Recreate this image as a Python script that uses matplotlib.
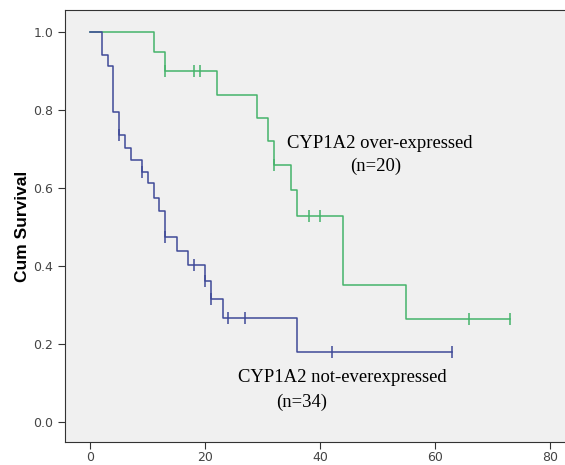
import matplotlib
matplotlib.use("Agg")
import matplotlib.pyplot as plt

# CYP1A2 over-expressed (n=20)
over_times = [0, 11, 13, 22, 29, 31, 32, 35, 36, 44, 55]
over_surv = [1.0, 0.95, 0.90, 0.84, 0.78, 0.72, 0.66, 0.594, 0.528, 0.352, 0.264]
over_end = 73
over_cens_t = [13, 18, 19, 32, 38, 40, 66, 73]
over_cens_s = [0.90, 0.90, 0.90, 0.66, 0.528, 0.528, 0.264, 0.264]

# CYP1A2 not-overexpressed (n=34)
not_times = [0, 2, 3, 4, 5, 6, 7, 9, 10, 11, 12, 13, 15, 17, 20, 21, 23, 36]
not_surv = [1.0, 0.941, 0.912, 0.794, 0.735, 0.704, 0.672, 0.642, 0.612,
            0.574, 0.542, 0.474, 0.438, 0.403, 0.362, 0.317, 0.266, 0.179]
not_end = 63
not_cens_t = [5, 9, 13, 18, 20, 21, 24, 27, 42, 63]
not_cens_s = [0.735, 0.642, 0.474, 0.403, 0.362, 0.317, 0.266, 0.266, 0.179, 0.179]

x_ticks = [0, 20, 40, 60, 80]
y_ticks = [0.0, 0.2, 0.4, 0.6, 0.8, 1.0]

green = "#45b36a"
blue = "#3f4a98"

fig = plt.figure(figsize=(5.65, 4.65), dpi=100)
ax = fig.add_axes([0.115, 0.05, 0.885, 0.928])
ax.set_facecolor("#f0f0f0")

ax.step(over_times + [over_end], over_surv + [over_surv[-1]], where="post",
        color=green, lw=1.1)
ax.plot(over_cens_t, over_cens_s, ls="none", marker="|", ms=8, mew=1.1, color=green)

ax.step(not_times + [not_end], not_surv + [not_surv[-1]], where="post",
        color=blue, lw=1.1)
ax.plot(not_cens_t, not_cens_s, ls="none", marker="|", ms=8, mew=1.1, color=blue)

ax.set_xlim(-4.44, 82.66)
ax.set_ylim(-0.05, 1.056)
ax.set_xticks(x_ticks)
ax.set_yticks(y_ticks)
ax.set_yticklabels([f"{v:.1f}" for v in y_ticks])
ax.tick_params(direction="out", length=5, labelsize=9, colors="#333333",
               labelcolor="#444444")
ax.tick_params(axis="x", pad=2)
ax.spines["right"].set_visible(False)
for s in ["left", "bottom", "top"]:
    ax.spines[s].set_color("#333333")

ax.set_ylabel("Cum Survival", fontsize=12.5, fontweight="bold",
              family="Liberation Sans", labelpad=2)

ax.text(50.4, 0.715, "CYP1A2 over-expressed", family="Liberation Serif",
        fontsize=13.4, ha="center", va="center")
ax.text(49.6, 0.656, "(n=20)", family="Liberation Serif",
        fontsize=13.4, ha="center", va="center")
ax.text(25.7, 0.115, "CYP1A2 not-everexpressed", family="Liberation Serif",
        fontsize=13.4, ha="left", va="center")
ax.text(36.7, 0.051, "(n=34)", family="Liberation Serif",
        fontsize=13.4, ha="center", va="center")

fig.savefig("out.png", dpi=100)
